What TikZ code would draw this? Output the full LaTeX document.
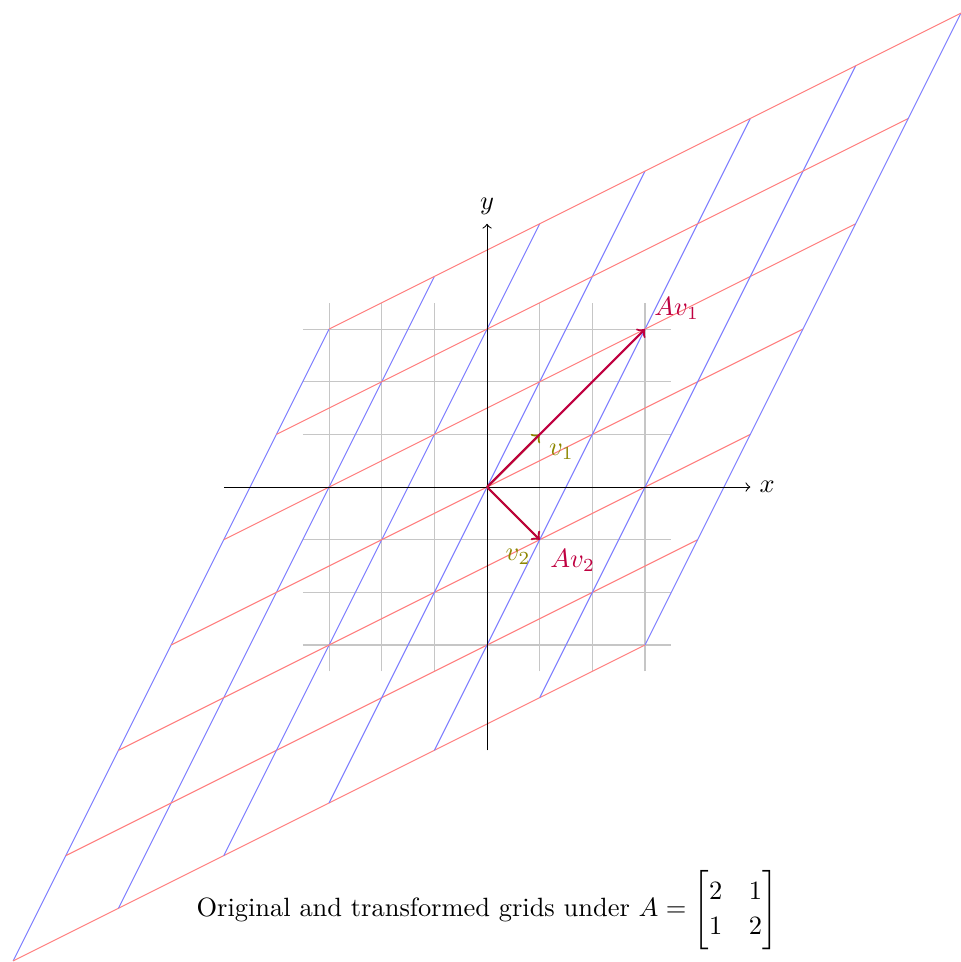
\documentclass[tikz,border=0pt]{standalone}
\usepackage{amsmath}
\begin{document}
\begin{tikzpicture}[x=0.7cm, y=0.7cm,
  gridline/.style={gray!45, line width=0.4pt},
  redline/.style={red!50, line width=0.4pt},
  blueline/.style={blue!50, line width=0.4pt},
  axis/.style={->, black, line width=0.4pt},
  vvec/.style={->, olive, thick},
  avec/.style={->, purple, thick},
]
\useasboundingbox (-9.25,-9.02) rectangle (9.0,9.25);
% original grid
\foreach \c in {-3,...,3} {
  \draw[gridline] (\c,-3.5) -- (\c,3.5);
  \draw[gridline] (-3.5,\c) -- (3.5,\c);
}
% transformed grid
\foreach \c in {-3,...,3} {
  \draw[blueline] ({2*\c-3},{\c-6}) -- ({2*\c+3},{\c+6});
  \draw[redline] ({\c-6},{2*\c-3}) -- ({\c+6},{2*\c+3});
}
% axes
\coordinate (O) at (0,0);
\coordinate (xe) at (5,0);
\coordinate (xs) at (-5,0);
\coordinate (ye) at (0,5);
\coordinate (ys) at (0,-5);
\draw[axis] (xs) -- (xe) node[right] {$x$};
\draw[axis] (ys) -- (ye) node[above] {$y$};
% vectors
\coordinate (v1) at (1,1);
\coordinate (v2) at (1,-1);
\coordinate (Av1) at (3,3);
\coordinate (Av2) at (1,-1);
\draw[vvec] (O) -- (v1);
\draw[vvec] (O) -- (v2);
\draw[avec] (O) -- (Av1);
\draw[avec] (O) -- (Av2);
\node[olive, below right] (lv1) at (v1) {$v_1$};
\node[olive, below left] (lv2) at (v2) {$v_2$};
\node[purple, above right] (lAv1) at (Av1) {$Av_1$};
\node[purple, below right, xshift=0.5pt] (lAv2) at (Av2) {$Av_2$};
% caption
\node (cap) at (0,-8.03) {\renewcommand{\arraystretch}{1.12}Original and transformed grids under $A=\begin{bmatrix}2&1\\1&2\end{bmatrix}$};
\end{tikzpicture}
\end{document}
